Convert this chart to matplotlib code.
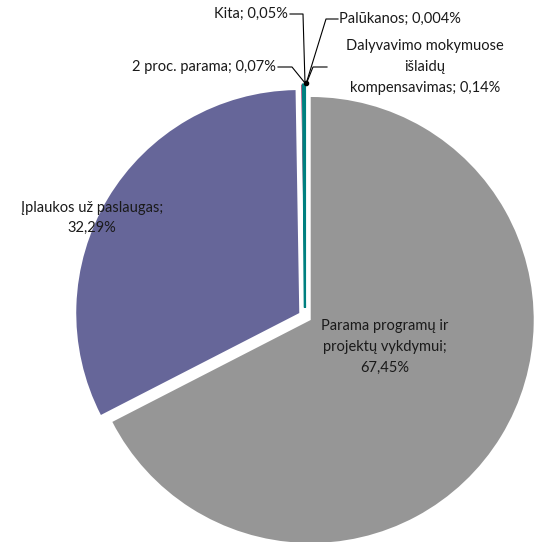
import matplotlib.pyplot as plt

# Data: income structure (%)
labels = ["Parama programų ir\nprojektų vykdymui;\n67,45%",
          "Įplaukos už paslaugas;\n32,29%",
          "2 proc. parama; 0,07%",
          "Kita; 0,05%",
          "Palūkanos; 0,004%",
          "Dalyvavimo mokymuose\nišlaidų\nkompensavimas; 0,14%"]
values = [67.45, 32.29, 0.07, 0.05, 0.004, 0.14]
colors = ["#969696", "#666699", "#993366", "#FFFFCC", "#CCFFFF", "#008080"]
explode = [0.03, 0.03, 0.04, 0.04, 0.04, 0.04]

plt.rcParams['font.family'] = ['Lato', 'DejaVu Sans']

fig = plt.figure(figsize=(5.42, 5.42), dpi=100)
ax = fig.add_axes([0, 0, 1, 1])

# pixel -> data helper (radius 1 = 223 px, centre at 305, 316.5)
S, CX, CY = 223.0, 305.0, 316.5


def px(x, y):
    return (x - CX) / S, (CY - y) / S


wedges, _ = ax.pie(values, colors=colors, explode=explode, startangle=90,
                   counterclock=False, radius=1, wedgeprops=dict(linewidth=0))
# make the thin teal sliver visible like in the original
wedges[5].set_edgecolor("#008080")
wedges[5].set_linewidth(1.6)

ax.set_xlim(-CX / S, (542 - CX) / S)
ax.set_ylim(-(542 - CY) / S, CY / S)
ax.set_aspect('equal')
ax.axis('off')

fs = 10.5
tc = '#1a1a1a'
# labels inside the big slices
ax.text(*px(385, 347), labels[0], ha='center', va='center', fontsize=fs,
        linespacing=1.6, color=tc)
ax.text(*px(92, 218), labels[1], ha='center', va='center', fontsize=fs,
        linespacing=1.5, color=tc)

# small slices with leader lines
ax.text(*px(276, 67), labels[2], ha='right', va='center', fontsize=fs, color=tc)
ax.text(*px(288, 14), labels[3], ha='right', va='center', fontsize=fs, color=tc)
ax.text(*px(339, 19), labels[4], ha='left', va='center', fontsize=fs, color=tc)
ax.text(*px(425, 67), labels[5], ha='center', va='center', fontsize=fs,
        linespacing=1.65, color=tc)

leaders = [
    [(278, 67), (292, 67), (305, 83)],
    [(290, 14), (303, 14), (305, 83)],
    [(338, 19), (326, 19), (306, 84)],
    [(327, 67), (313, 67), (307, 82)],
]
for pts in leaders:
    xs, ys = zip(*[px(x, y) for x, y in pts])
    ax.plot(xs, ys, color='black', linewidth=0.8)
ax.plot(*px(305.5, 83), marker='o', markersize=3, color='black')

fig.savefig("out.png", dpi=100)
